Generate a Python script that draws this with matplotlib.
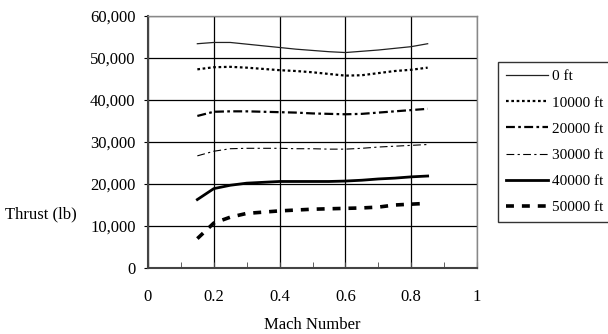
import numpy as np
import matplotlib
matplotlib.use("Agg")
import matplotlib.pyplot as plt
from matplotlib.ticker import MultipleLocator, FuncFormatter

plt.rcParams['font.family'] = ['Liberation Serif', 'DejaVu Serif']

mach = [0.15, 0.2, 0.25, 0.3, 0.35, 0.4, 0.45, 0.5, 0.55, 0.6, 0.65, 0.7, 0.75, 0.8, 0.85]
alt_labels = ["0 ft", "10000 ft", "20000 ft", "30000 ft", "40000 ft", "50000 ft"]
thrust_0 = [53400, 53700, 53700, 53300, 52900, 52500, 52100, 51800, 51500, 51300, 51600, 51900, 52300, 52700, 53400]
thrust_10k = [47300, 47800, 47900, 47700, 47400, 47100, 46900, 46600, 46200, 45800, 45900, 46400, 46900, 47200, 47700]
thrust_20k = [36200, 37200, 37300, 37300, 37200, 37100, 37000, 36800, 36700, 36600, 36700, 37000, 37300, 37600, 37900]
thrust_30k = [26700, 27800, 28400, 28500, 28500, 28500, 28400, 28400, 28300, 28300, 28500, 28800, 29000, 29200, 29400]
thrust_40k = [16300, 18900, 19700, 20200, 20400, 20600, 20600, 20600, 20600, 20700, 20900, 21200, 21400, 21700, 21900]
thrust_50k = [7000, 10700, 12100, 13000, 13300, 13600, 13800, 14000, 14100, 14200, 14300, 14500, 15000, 15200, 15400]

fig = plt.figure(figsize=(6.08, 3.34), dpi=100)
ax = fig.add_axes([148/608, 1-268/334, (477-148)/608, (268-16)/334])

ax.plot(mach, thrust_0, color="#222222", lw=0.9, ls="-", label=alt_labels[0])
ax.plot(mach, thrust_10k, color="black", lw=1.6, ls=(0, (1.2, 1.2)), label=alt_labels[1])
ax.plot(mach, thrust_20k, color="black", lw=1.6, ls=(0, (4, 1.5, 1.2, 1.5)), label=alt_labels[2])
ax.plot(mach, thrust_30k, color="black", lw=0.8, ls=(0, (7, 3, 2, 3)), label=alt_labels[3])
ax.plot(mach, thrust_40k, color="black", lw=2.0, ls="-", label=alt_labels[4])
ax.plot(mach, thrust_50k, color="black", lw=2.6, ls=(0, (2.2, 2.2)), label=alt_labels[5])

def xfmt(v, p):
    r = round(v, 1)
    if r == 0:
        return "0"
    if r == 1:
        return "1"
    return f"{r:.1f}"

ax.set_xlim(0, 1)
ax.set_ylim(0, 60000)
ax.xaxis.set_major_locator(MultipleLocator(0.2))
ax.xaxis.set_minor_locator(MultipleLocator(0.1))
ax.yaxis.set_major_locator(MultipleLocator(10000))
ax.xaxis.set_major_formatter(FuncFormatter(xfmt))
ax.yaxis.set_major_formatter(FuncFormatter(lambda v, p: f"{int(v):,}"))
ax.grid(True, color="black", lw=0.9)
ax.tick_params(axis="x", which="both", direction="in", length=4, labelsize=12, pad=15, color="#444444")
ax.tick_params(axis="y", which="major", direction="out", length=3, labelsize=12, pad=6)
for s in ax.spines.values():
    s.set_color("#888888")
    s.set_linewidth(1.0)
ax.spines["bottom"].set_color("#444444")
ax.spines["bottom"].set_linewidth(1.5)
ax.spines["left"].set_color("#444444")
ax.spines["left"].set_linewidth(1.5)

ax.set_xlabel("Mach Number", fontsize=12, labelpad=9)
fig.text(5/608, 1-214/334, "Thrust (lb)", fontsize=12, va="center", ha="left")

leg = fig.legend(loc="upper left", bbox_to_anchor=(498/608, 1-62/334), fontsize=11,
                 frameon=True, fancybox=False, edgecolor="black", handlelength=2.75,
                 labelspacing=0.82, borderpad=0.5, handletextpad=0.3, borderaxespad=0)
leg.get_frame().set_linewidth(1.0)

fig.savefig("out.png", dpi=100)
